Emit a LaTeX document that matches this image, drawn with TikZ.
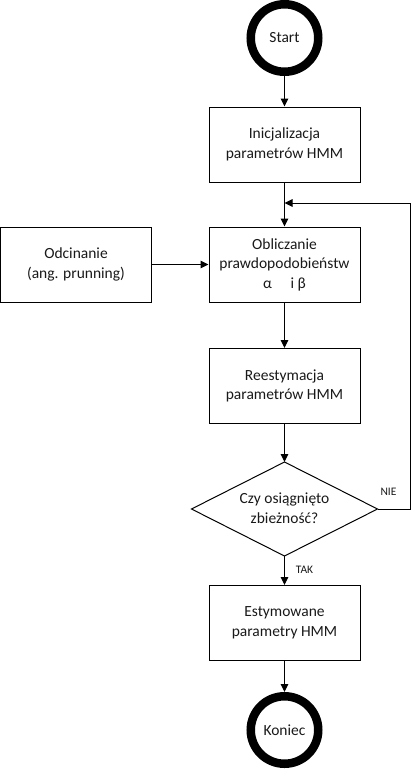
\documentclass[tikz,border=0pt]{standalone}
\usepackage{fontspec}
\setmainfont{Carlito}
\usetikzlibrary{arrows.meta}
\begin{document}
\begin{tikzpicture}[x=1pt,y=-1pt,
  every node/.style={font=\fontsize{15.5}{19.5}\selectfont, text=black!90},
  procbox/.style={draw, line width=1pt, minimum width=151pt, minimum height=75pt, inner sep=0pt, align=center},
  term/.style={circle, draw, line width=8.5pt, minimum size=67.5pt, inner sep=0pt},
  decisiontext/.style={align=center, inner sep=0pt},
  outline/.style={draw, line width=1pt, line join=miter},
  flow/.style={line width=1pt, -{Triangle[length=8pt,width=7.5pt]}},
  lab/.style={font=\fontsize{11.5}{14}\selectfont, inner sep=0pt}]
\useasboundingbox (0,0) rectangle (413,769);
\node[term] (start) at (284.5,38) {Start};
\node[procbox] (init) at (284.5,144.5) {Inicjalizacja\\parametrów HMM};
\node[procbox] (calc) at (284.5,264.5) {Obliczanie\\prawdopodobieństw\\α\hspace{1.2em}i β};
\node[procbox] (prun) at (76,264.5) {Odcinanie\\(ang. prunning)};
\node[procbox] (reest) at (284.5,386) {Reestymacja\\parametrów HMM};
\coordinate (conv-n) at (284.5,462);
\coordinate (conv-e) at (377.5,509);
\coordinate (conv-s) at (284.5,556);
\coordinate (conv-w) at (191.5,509);
\draw[outline] (conv-n) -- (conv-e) -- (conv-s) -- (conv-w) -- cycle;
\node[decisiontext] (conv) at (284.5,508) {Czy osiągnięto\\zbieżność?};
\node[procbox] (est) at (284.5,623) {Estymowane\\parametry HMM};
\node[term] (end) at (284.5,730) {Koniec};
\coordinate (loopin) at (284.5,203);
\coordinate (loopcorner) at (410,509);
\draw[flow] (start.south) -- (init.north);
\draw[flow] (init.south) -- (calc.north);
\draw[flow] (prun.east) -- (calc.west);
\draw[flow] (calc.south) -- (reest.north);
\draw[flow] (reest.south) -- (conv-n);
\draw[flow] (conv-s) -- (est.north);
\draw[flow] (est.south) -- (end.north);
\draw[flow] (conv-e) -- (loopcorner) |- (loopin);
\node[lab] (tak) at (304.5,569.5) {TAK};
\node[lab] (nie) at (388.5,492) {NIE};
\end{tikzpicture}
\end{document}
